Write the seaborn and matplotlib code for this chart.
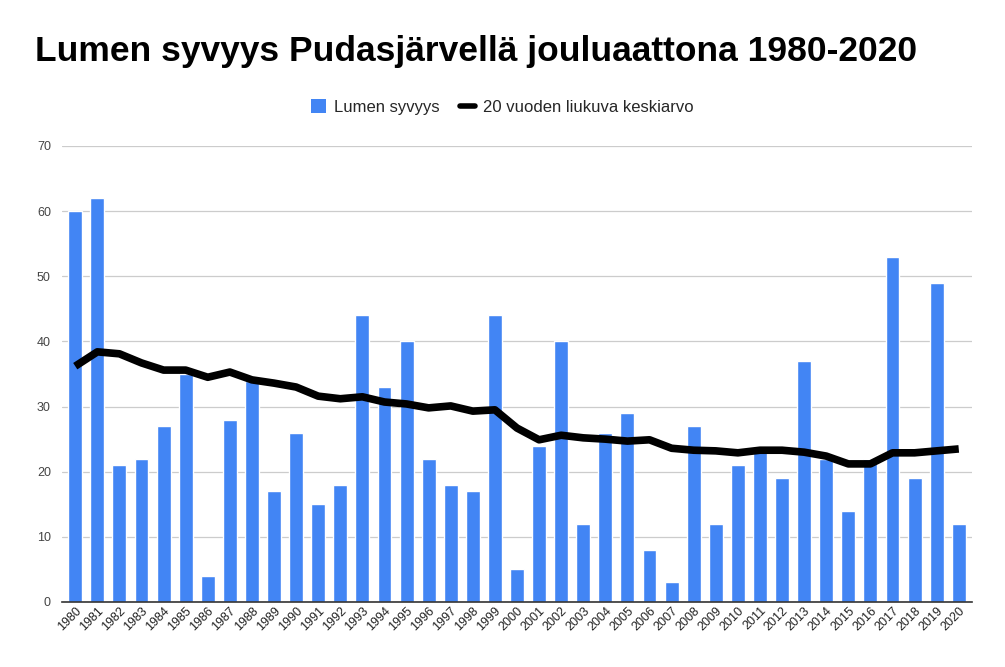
import numpy as np
import pandas as pd
import matplotlib
matplotlib.use("Agg")
import matplotlib.pyplot as plt
import seaborn as sns
from matplotlib.lines import Line2D
from matplotlib.patches import Patch

years = list(range(1980, 2021))
snow_depth = [60, 62, 21, 22, 27, 35, 4, 28, 34, 17, 26, 15, 18, 44, 33, 40, 22, 18, 17, 44,
              5, 24, 40, 12, 26, 29, 8, 3, 27, 12, 21, 23, 19, 37, 22, 14, 22, 53, 19, 49, 12]
moving_avg = [36.2, 38.4, 38.1, 36.7, 35.6, 35.6, 34.5, 35.3, 34.1, 33.6, 33.0, 31.6, 31.2, 31.5,
              30.7, 30.4, 29.8, 30.1, 29.3, 29.5, 26.7, 24.9, 25.6, 25.2, 25.0, 24.7, 24.9, 23.6,
              23.3, 23.2, 22.9, 23.3, 23.3, 23.0, 22.4, 21.2, 21.2, 22.9, 22.9, 23.2, 23.5]
bar_label = "Lumen syvyys"
line_label = "20 vuoden liukuva keskiarvo"
title = "Lumen syvyys Pudasjärvellä jouluaattona 1980-2020"

df = pd.DataFrame({"year": [str(y) for y in years], "depth": snow_depth,
                   "pos": np.arange(len(years)), "avg": moving_avg})

sns.set_theme(style="white")
plt.rcParams["font.family"] = ["Liberation Sans", "DejaVu Sans"]

fig = plt.figure(figsize=(10.05, 6.67), dpi=100)
ax = fig.add_axes([62 / 1005, 1 - 602 / 667, 910 / 1005, 456 / 667])

sns.barplot(data=df, x="year", y="depth", color="#4285f4", saturation=1, width=0.63, ax=ax)
sns.lineplot(data=df, x="pos", y="avg", color="black", linewidth=5.5, ax=ax,
             solid_capstyle="butt", solid_joinstyle="round")

ax.set_ylim(0, 70)
ax.set_xlim(-0.6, len(years) - 0.4)
ax.set_yticks(range(0, 71, 10))
ax.yaxis.grid(True, color="#cccccc", linewidth=0.9)
ax.set_axisbelow(True)
for s in ["top", "right", "left"]:
    ax.spines[s].set_visible(False)
ax.spines["bottom"].set_color("#333333")
ax.spines["bottom"].set_linewidth(1.2)
ax.set_xlabel("")
ax.set_ylabel("")
ax.tick_params(axis="y", labelsize=9, colors="#444444", length=0, pad=8)
ax.tick_params(axis="x", labelsize=9, colors="#222222", length=0, pad=2)
ax.set_xticks(range(len(years)))
ax.set_xticklabels([str(y) for y in years], rotation=45, ha="right", rotation_mode="anchor")

fig.text(35 / 1005, 1 - 52 / 667, title, fontsize=25.5, fontweight="bold", va="center", ha="left",
         color="black")

handles = [Patch(facecolor="#4285f4", edgecolor="none"),
           Line2D([0], [0], color="black", linewidth=4)]
fig.legend(handles, [bar_label, line_label], loc="center", bbox_to_anchor=(0.5, 1 - 107 / 667),
           ncol=2, frameon=False, fontsize=12, handlelength=0.9, handleheight=0.9,
           handletextpad=0.5, columnspacing=1.2)

fig.savefig("out.png", dpi=100, facecolor="white")
